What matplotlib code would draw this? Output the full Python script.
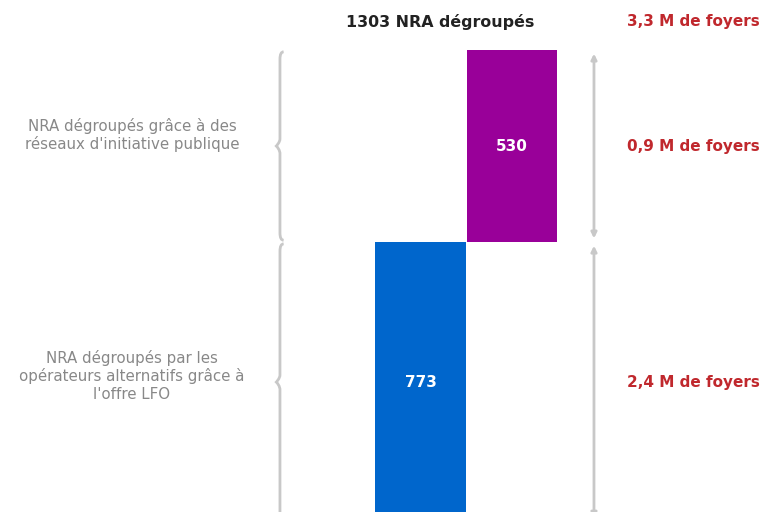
import matplotlib
matplotlib.use("Agg")
import matplotlib.pyplot as plt
from matplotlib.path import Path
from matplotlib.patches import PathPatch

# donnees
categories = ["NRA dégroupés par les\nopérateurs alternatifs grâce à\nl'offre LFO",
              "NRA dégroupés grâce à des\nréseaux d'initiative publique"]
valeurs = [773, 530]
foyers = ["2,4 M de foyers", "0,9 M de foyers"]
total_label = "1303 NRA dégroupés"
total_foyers = "3,3 M de foyers"
couleurs = ["#0066cc", "#990099"]

GRIS = "#c8c8c8"
ROUGE = "#c0282d"

fig = plt.figure(figsize=(7.68, 5.12), dpi=100)
ax = fig.add_axes([0, 0, 1, 1])
ax.set_xlim(-4.596, 3.798)
ax.set_ylim(28, 1441)
ax.axis("off")

# barres en cascade
bas = [0, valeurs[0]]
for i, (v, b, c) in enumerate(zip(valeurs, bas, couleurs)):
    ax.bar(i, v, bottom=b, width=0.985, color=c)
    ax.text(i, b + v / 2, str(v), color="white", ha="center", va="center",
            fontsize=11, fontweight="bold")

total = sum(valeurs)


def accolade(x, y0, y1, w=0.04, h=20):
    ym = (y0 + y1) / 2
    verts = [(x + w, y1), (x, y1), (x, y1 - h), (x, y1 - h),
             (x, ym + h), (x, ym + h / 2), (x - w, ym), (x - w, ym),
             (x, ym - h / 2), (x, ym - h), (x, ym - h),
             (x, y0 + h), (x, y0), (x + w, y0)]
    codes = [Path.MOVETO, Path.CURVE3, Path.CURVE3, Path.LINETO,
             Path.LINETO, Path.CURVE4, Path.CURVE4, Path.CURVE4,
             Path.CURVE4, Path.CURVE4, Path.LINETO,
             Path.LINETO, Path.CURVE3, Path.CURVE3]
    ax.add_patch(PathPatch(Path(verts, codes), fill=False, ec=GRIS, lw=2))


x_acc = -1.536
x_fl = 1.896
x_txt = -3.153
x_rouge = 2.257
decal_txt = [18, 30]  # petit decalage vertical des libelles gauche

for i, (v, b) in enumerate(zip(valeurs, bas)):
    accolade(x_acc, b + 5, b + v - 5)
    ax.text(x_txt, b + v / 2 + decal_txt[i], categories[i], ha="center",
            va="center", fontsize=10.8, color="#888888", linespacing=1.2)
    ax.annotate("", xy=(x_fl, b + v - 10), xytext=(x_fl, b + 10),
                arrowprops=dict(arrowstyle="<|-|>", color=GRIS, lw=2,
                                mutation_scale=8, shrinkA=0, shrinkB=0))
    ax.text(x_rouge, b + v / 2, foyers[i], ha="left", va="center",
            fontsize=11, fontweight="bold", color=ROUGE)

y_titre = total + 78
ax.text(0.213, y_titre, total_label, ha="center", va="center",
        fontsize=11.4, fontweight="bold", color="#222222")
ax.text(x_rouge, y_titre, total_foyers, ha="left", va="center",
        fontsize=11, fontweight="bold", color=ROUGE)

fig.savefig("out.png", dpi=100)
